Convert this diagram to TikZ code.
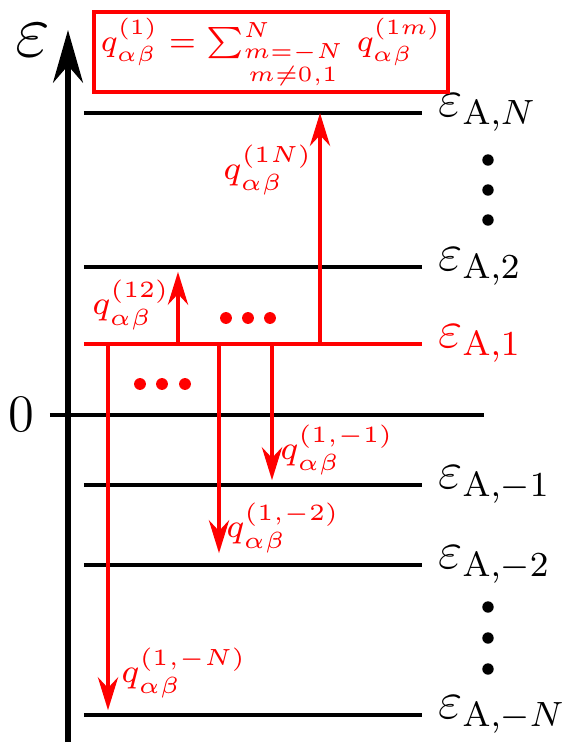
\documentclass[tikz,border=0pt]{standalone}
\usepackage{fix-cm}
\usepackage{amsmath, amssymb}
\usepackage{tikz}
\usetikzlibrary{arrows.meta, positioning}
\definecolor{transcolor}{HTML}{FF0000}

\begin{document}
\begin{tikzpicture}[x=0.228pt, y=-0.228pt,
    level/.style={line width=0.85pt},
    axisarrow/.style={line width=1.4pt, -{Stealth[length=12pt, width=6.8pt]}},
    qarrow/.style={transcolor, line width=0.9pt, -{Stealth[length=7.5pt, width=4.6pt]}},
    lvlabel/.style={anchor=west, font=\large},
    qlabel/.style={text=transcolor, inner sep=0pt, font=\fontsize{7.6}{9}\selectfont}]
    \useasboundingbox (0,0) rectangle (577,754);

    % Energy axis
    \coordinate (ax0) at (68,742);
    \coordinate (ax1) at (68,30);
    \draw[axisarrow] (ax0) -- (ax1);
    \node[font=\LARGE] (epsaxis) at (33,40) {$\varepsilon$};

    % Levels
    \foreach \name/\y/\lab in {N/113/N, 2/267/2, m1/485/-1, m2/565/-2, mN/715/-N} {
        \coordinate (\name-l) at (84,\y);
        \coordinate (\name-r) at (422,\y);
        \draw[level] (\name-l) -- (\name-r)
            node[lvlabel] (\name-lab) {$\varepsilon_{\mathrm{A},\lab}$};
    }
    \coordinate (1-l) at (84,344);
    \coordinate (1-r) at (422,344);
    \draw[level, transcolor] (1-l) -- (1-r)
        node[lvlabel, text=transcolor] (1-lab) {$\varepsilon_{\mathrm{A},1}$};

    % Zero
    \coordinate (0-l) at (50,415);
    \coordinate (0-r) at (484,415);
    \draw[level] (0-l) -- (0-r);
    \node[anchor=east, font=\large] (zero) at (0-l) {$0$};

    % Dots
    \foreach \y in {160,190,220,607,638,669}
        \fill (488,\y) circle (1.3pt);
    \foreach \x in {226,248,270}
        \fill[transcolor] (\x,318) circle (1.35pt);
    \foreach \x in {140,162,185}
        \fill[transcolor] (\x,384) circle (1.35pt);

    % Transitions
    \draw[qarrow] (320,0 |- 1-l) -- (320,0 |- N-l);
    \draw[qarrow, shorten >=1.1pt] (178,0 |- 1-l) -- (178,0 |- 2-l);
    \draw[qarrow, shorten >=1.1pt] (272,0 |- 1-l) -- (272,0 |- m1-l);
    \draw[qarrow, shorten >=2.7pt] (219,0 |- 1-l) -- (219,0 |- m2-l);
    \draw[qarrow, shorten >=1.1pt] (108,0 |- 1-l) -- (108,0 |- mN-l);

    % Rates
    \node[qlabel] (q1N) at (268,170) {$q^{(1N)}_{\alpha\beta}$};
    \node[qlabel] (q12) at (131,305) {$q^{(12)}_{\alpha\beta}$};
    \node[qlabel] (q1m1) at (337,450) {$q^{(1,-1)}_{\alpha\beta}$};
    \node[qlabel] (q1m2) at (283,528) {$q^{(1,-2)}_{\alpha\beta}$};
    \node[qlabel] (q1mN) at (184,673) {$q^{(1,-N)}_{\alpha\beta}$};

    % Total rate
    \node[draw=transcolor, line width=1pt, text=transcolor, inner xsep=1.5pt, inner ysep=1pt,
        minimum width=78.4pt, minimum height=18.2pt,
        font=\fontsize{7.1}{9}\selectfont] (sumbox) at (271,52)
        {$q^{(1)}_{\alpha\beta} = \sum\nolimits_{\substack{m=-N\\ m\neq 0,1}}^{N}\, q^{(1m)}_{\alpha\beta}$};
\end{tikzpicture}
\end{document}
